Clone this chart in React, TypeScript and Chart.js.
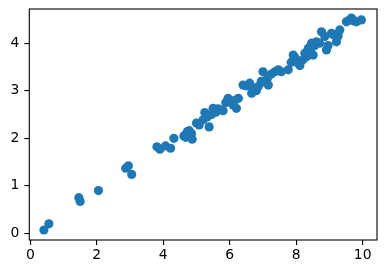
import React, { useEffect, useRef } from "react";
import { Chart, registerables } from "chart.js";

Chart.register(...registerables);

const xValues = [
  0.41, 0.56, 1.46, 1.5, 2.05, 2.87, 2.95, 3.05, 3.81, 3.9,
  4.07, 4.22, 4.32, 4.62, 4.68, 4.72, 4.78, 4.85, 4.87, 5.0,
  5.08, 5.2, 5.25, 5.32, 5.38, 5.45, 5.5, 5.58, 5.65, 5.7,
  5.8, 5.88, 5.95, 6.02, 6.1, 6.15, 6.2, 6.26, 6.4, 6.5,
  6.6, 6.66, 6.72, 6.8, 6.86, 6.95, 7.0, 7.05, 7.13, 7.16,
  7.25, 7.36, 7.46, 7.55, 7.76, 7.85, 7.91, 7.96, 8.01, 8.06,
  8.11, 8.2, 8.26, 8.32, 8.36, 8.42, 8.46, 8.51, 8.56, 8.61,
  8.7, 8.76, 8.86, 8.91, 8.96, 9.06, 9.12, 9.21, 9.26, 9.31,
  9.51, 9.58, 9.66, 9.75, 9.81, 9.96,
];
const yValues = [
  0.07, 0.2, 0.75, 0.67, 0.9, 1.37, 1.42, 1.24, 1.82, 1.77,
  1.84, 1.79, 2.0, 2.05, 2.02, 2.14, 2.16, 2.1, 1.98, 2.32,
  2.28, 2.39, 2.54, 2.45, 2.24, 2.5, 2.63, 2.55, 2.62, 2.6,
  2.58, 2.75, 2.84, 2.78, 2.7, 2.8, 2.63, 2.84, 3.12, 3.1,
  3.16, 2.95, 3.05, 3.0, 3.09, 3.2, 3.4, 3.18, 3.26, 3.12,
  3.35, 3.4, 3.44, 3.4, 3.44, 3.6, 3.75, 3.7, 3.64, 3.58,
  3.53, 3.65, 3.79, 3.72, 3.89, 3.85, 4.0, 3.75, 3.95, 4.03,
  4.0, 4.24, 4.14, 3.86, 3.95, 4.21, 4.18, 4.03, 4.15, 4.28,
  4.45, 4.48, 4.53, 4.47, 4.45, 4.49,
];

const frame = {
  id: "frame",
  afterDatasetsDraw(chart: any) {
    const { ctx, chartArea } = chart;
    ctx.save();
    ctx.strokeStyle = "#000";
    ctx.lineWidth = 1.1;
    ctx.strokeRect(chartArea.left, chartArea.top, chartArea.right - chartArea.left, chartArea.bottom - chartArea.top);
    ctx.restore();
  },
};

export default function App() {
  const ref = useRef<HTMLCanvasElement>(null);
  useEffect(() => {
    const font = { family: "DejaVu Sans", size: 13.9 };
    const chart = new Chart(ref.current!, {
      type: "scatter",
      data: {
        datasets: [
          {
            data: xValues.map((x, i) => ({ x, y: yValues[i] })),
            backgroundColor: "#1f77b4",
            borderWidth: 0,
            pointRadius: 4.6,
            pointHoverRadius: 4.6,
          },
        ],
      },
      options: {
        animation: false,
        responsive: false,
        devicePixelRatio: 1,
        layout: { padding: { top: 9, right: 10, left: 0, bottom: 0 } },
        plugins: { legend: { display: false }, tooltip: { enabled: false } },
        scales: {
          x: {
            type: "linear",
            min: -0.03,
            max: 10.43,
            border: { display: false },
            grid: { drawOnChartArea: false, drawTicks: true, tickLength: 5, color: "#000", lineWidth: 1.1 },
            ticks: { stepSize: 2, includeBounds: false, color: "#000", font, padding: 2, maxRotation: 0 },
            afterFit: (s: any) => {
              s.height = 34;
              s.paddingLeft = 0;
              s.paddingRight = 0;
            },
          },
          y: {
            type: "linear",
            min: -0.14,
            max: 4.72,
            border: { display: false },
            grid: { drawOnChartArea: false, drawTicks: true, tickLength: 5, color: "#000", lineWidth: 1.1 },
            ticks: { stepSize: 1, includeBounds: false, color: "#000", font, padding: 5 },
            afterFit: (s: any) => {
              s.width = 29.3;
              s.paddingTop = 0;
              s.paddingBottom = 0;
            },
          },
        },
      },
      plugins: [frame],
    });
    return () => chart.destroy();
  }, []);
  return (
    <div style={{ position: "absolute", left: 0, top: 0, width: 387, height: 274, background: "#fff" }}>
      <canvas ref={ref} width={387} height={274} style={{ display: "block" }} />
    </div>
  );
}
